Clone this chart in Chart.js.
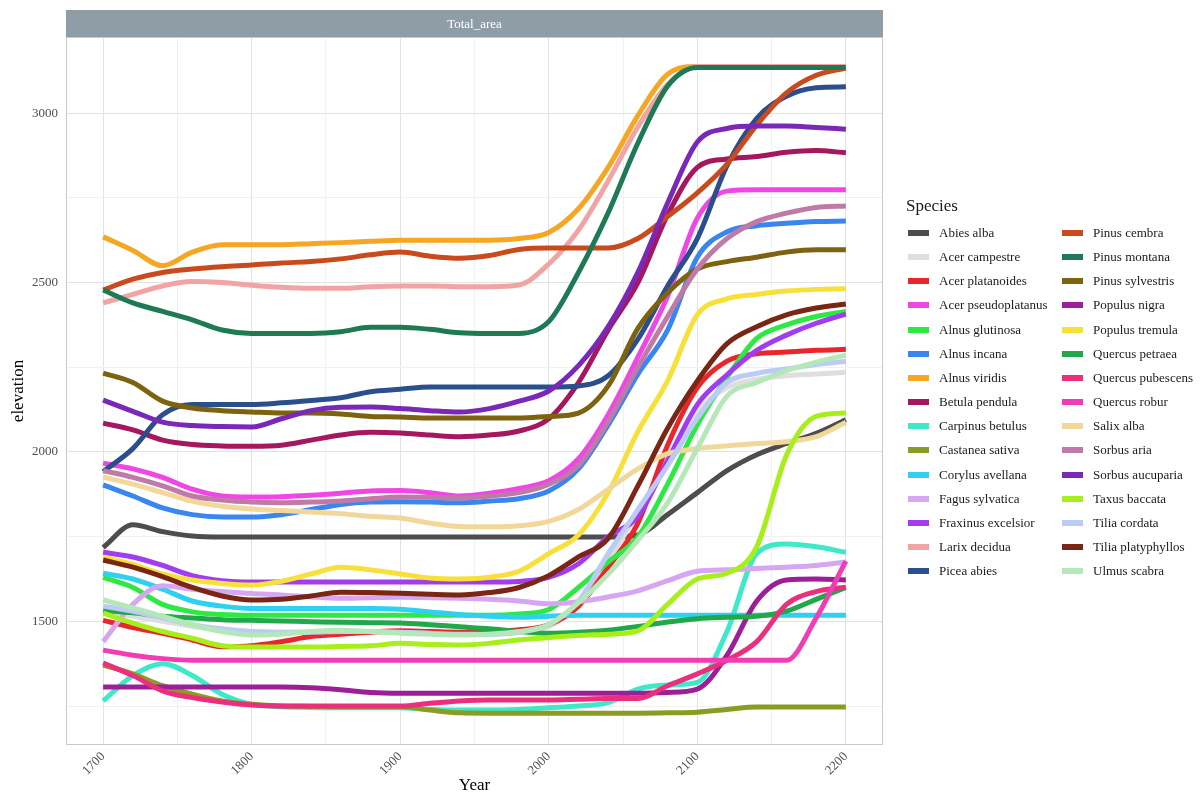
<!DOCTYPE html>
<html lang="en">
<head>
<meta charset="UTF-8" />
<title>Species elevation - Total_area</title>
<script src="https://cdn.jsdelivr.net/npm/chart.js"></script>
<style>
  body { margin: 0; background: #fff; font-family: "Liberation Serif", "DejaVu Serif", serif; }
  #wrap { position: relative; width: 1200px; height: 796px; }
  #legend { position: absolute; left: 0; top: 0; }
  .lg-title { position: absolute; left: 906px; top: 196px; font-size: 17px; color: #1a1a1a; }
  .lg-item { position: absolute; height: 20px; line-height: 20px; font-size: 13px; color: #1a1a1a; white-space: nowrap; }
  .lg-key { position: absolute; left: 0; top: 7px; width: 21px; height: 6px; }
  .lg-text { position: absolute; left: 31px; top: 0; }
</style>
</head>
<body>
<div id="wrap">
  <canvas id="chart" width="1200" height="796"></canvas>
  <div id="legend"></div>
</div>

<script>
  // years every 20 from 1700 to 2200
  const years = [1700,1720,1740,1760,1780,1800,1820,1840,1860,1880,1900,1920,1940,1960,1980,2000,2020,2040,2060,2080,2100,2120,2140,2160,2180,2200];

  const species = ['Abies alba','Acer campestre','Acer platanoides','Acer pseudoplatanus','Alnus glutinosa','Alnus incana','Alnus viridis','Betula pendula','Carpinus betulus','Castanea sativa','Corylus avellana','Fagus sylvatica','Fraxinus excelsior','Larix decidua','Picea abies','Pinus cembra','Pinus montana','Pinus sylvestris','Populus nigra','Populus tremula','Quercus petraea','Quercus pubescens','Quercus robur','Salix alba','Sorbus aria','Sorbus aucuparia','Taxus baccata','Tilia cordata','Tilia platyphyllos','Ulmus scabra'];

  const colors = ['#4d4d4d','#dedede','#e8262b','#f046e6','#2ee843','#3a86f0','#f5a623','#a5175e','#3ee8c8','#8c9c23','#2fd0f0','#d7a6f2','#a23cf0','#f2a3a3','#2b4f8c','#c94a1c','#1d7a55','#7d6210','#9c1f99','#f7e03a','#22a84a','#eb2f7d','#f23cb3','#f2d79b','#c07aa8','#7a28b8','#a6ef1a','#bccbf5','#7a2614','#b5e8b8'];

  const abiesAlba          = [1718,1785,1765,1752,1749,1749,1749,1749,1749,1749,1749,1749,1749,1749,1749,1749,1749,1749,1755,1815,1880,1945,1992,2025,2055,2095];
  const acerCampestre      = [1530,1515,1500,1485,1475,1470,1468,1468,1468,1468,1468,1466,1464,1464,1468,1485,1545,1680,1820,1980,2120,2190,2215,2225,2230,2235];
  const acerPlatanoides    = [1503,1482,1465,1445,1425,1428,1440,1455,1462,1468,1472,1470,1468,1470,1475,1490,1545,1660,1790,2020,2190,2268,2290,2295,2300,2303];
  const acerPseudoplat     = [1967,1950,1925,1890,1870,1867,1868,1872,1878,1885,1886,1880,1870,1878,1892,1915,1980,2110,2280,2460,2690,2770,2774,2774,2774,2774];
  const alnusGlutinosa     = [1630,1600,1550,1528,1520,1518,1518,1518,1518,1518,1518,1518,1518,1518,1522,1535,1600,1675,1750,1905,2080,2220,2335,2375,2400,2415];
  const alnusIncana        = [1903,1870,1835,1815,1808,1808,1815,1830,1845,1852,1853,1852,1850,1855,1862,1885,1950,2080,2230,2360,2575,2650,2668,2675,2680,2682];
  const alnusViridis       = [2635,2595,2550,2590,2612,2612,2612,2615,2618,2622,2625,2625,2625,2625,2630,2648,2718,2840,2993,3115,3138,3138,3138,3138,3138,3138];
  const betulaPendula      = [2085,2065,2035,2022,2018,2017,2020,2035,2050,2058,2056,2050,2045,2050,2062,2098,2205,2360,2500,2700,2840,2865,2872,2885,2890,2883];
  const carpinusBetulus    = [1265,1340,1375,1340,1285,1255,1248,1246,1245,1245,1245,1240,1238,1238,1240,1245,1250,1260,1300,1312,1320,1470,1700,1728,1720,1704];
  const castaneaSativa     = [1371,1345,1310,1285,1265,1255,1250,1249,1248,1248,1248,1238,1230,1229,1229,1229,1229,1229,1229,1230,1232,1240,1247,1247,1247,1247];
  const corylusAvellana    = [1642,1625,1595,1560,1545,1538,1538,1538,1538,1538,1536,1528,1520,1515,1512,1515,1518,1518,1518,1518,1518,1518,1518,1518,1518,1518];
  const fagusSylvatica     = [1440,1550,1605,1595,1588,1582,1578,1572,1568,1570,1571,1570,1568,1565,1560,1552,1558,1572,1590,1620,1648,1652,1656,1660,1665,1675];
  const fraxinusExcelsior  = [1704,1690,1665,1635,1620,1616,1616,1616,1616,1616,1616,1616,1616,1616,1618,1630,1670,1750,1810,1975,2140,2228,2300,2345,2380,2407];
  const larixDecidua       = [2440,2465,2490,2503,2500,2492,2486,2483,2483,2488,2490,2490,2488,2488,2493,2555,2655,2800,2960,3085,3138,3138,3138,3138,3138,3138];
  const piceaAbies         = [1942,2010,2110,2140,2140,2140,2145,2152,2160,2178,2185,2192,2192,2192,2192,2192,2195,2225,2333,2490,2630,2845,2985,3050,3075,3078];
  const pinusCembra        = [2478,2510,2530,2540,2547,2552,2558,2562,2570,2582,2590,2578,2572,2580,2598,2602,2602,2602,2630,2695,2765,2850,2965,3060,3112,3133];
  const pinusMontana       = [2478,2440,2415,2390,2360,2350,2350,2350,2355,2368,2368,2362,2352,2350,2350,2385,2530,2706,2912,3080,3135,3135,3135,3135,3135,3135];
  const pinusSylvestris    = [2233,2205,2150,2130,2122,2118,2115,2115,2112,2105,2103,2100,2100,2100,2100,2105,2115,2195,2365,2470,2540,2562,2575,2590,2597,2597];
  const populusNigra       = [1306,1306,1306,1306,1306,1306,1306,1304,1298,1290,1288,1288,1288,1288,1288,1288,1288,1288,1288,1290,1300,1400,1560,1622,1625,1622];
  const populusTremula     = [1690,1668,1640,1622,1612,1607,1618,1640,1660,1652,1640,1628,1625,1630,1648,1700,1755,1880,2060,2210,2405,2452,2465,2475,2480,2482];
  const quercusPetraea     = [1532,1525,1515,1510,1505,1503,1501,1499,1497,1496,1495,1490,1484,1478,1470,1465,1468,1474,1485,1498,1508,1512,1515,1530,1565,1600];
  const quercusPubescens   = [1377,1340,1295,1275,1262,1253,1250,1250,1250,1250,1250,1258,1265,1268,1268,1268,1270,1272,1272,1310,1345,1385,1440,1550,1588,1601];
  const quercusRobur       = [1415,1400,1390,1385,1385,1385,1385,1385,1385,1385,1385,1385,1385,1385,1385,1385,1385,1385,1385,1385,1385,1385,1385,1385,1510,1678];
  const salixAlba          = [1926,1905,1880,1855,1840,1832,1827,1823,1818,1810,1805,1790,1780,1779,1782,1795,1830,1890,1950,1995,2010,2018,2025,2030,2045,2088];
  const sorbusAria         = [1945,1925,1900,1870,1858,1852,1850,1852,1855,1862,1867,1866,1864,1870,1880,1905,1960,2090,2250,2400,2540,2630,2680,2705,2722,2726];
  const sorbusAucuparia    = [2153,2120,2088,2078,2075,2074,2098,2122,2132,2133,2128,2122,2118,2128,2150,2180,2255,2370,2530,2735,2915,2955,2962,2962,2958,2953];
  const taxusBaccata       = [1524,1495,1470,1450,1428,1424,1424,1424,1426,1428,1435,1432,1430,1435,1445,1452,1458,1462,1472,1550,1625,1642,1720,1990,2105,2115];
  const tiliaCordata       = [1545,1530,1510,1490,1478,1470,1468,1468,1470,1470,1468,1465,1462,1462,1468,1490,1560,1700,1830,1960,2100,2205,2232,2245,2258,2268];
  const tiliaPlatyphyllos  = [1681,1660,1632,1600,1575,1563,1565,1575,1586,1585,1583,1580,1578,1585,1600,1635,1690,1745,1900,2070,2210,2320,2370,2405,2425,2437];
  const ulmusScabra        = [1563,1540,1515,1490,1470,1460,1462,1470,1474,1470,1465,1462,1460,1462,1470,1490,1555,1640,1740,1850,2010,2165,2205,2240,2265,2286];

  const series = [abiesAlba, acerCampestre, acerPlatanoides, acerPseudoplat, alnusGlutinosa, alnusIncana, alnusViridis, betulaPendula, carpinusBetulus, castaneaSativa, corylusAvellana, fagusSylvatica, fraxinusExcelsior, larixDecidua, piceaAbies, pinusCembra, pinusMontana, pinusSylvestris, populusNigra, populusTremula, quercusPetraea, quercusPubescens, quercusRobur, salixAlba, sorbusAria, sorbusAucuparia, taxusBaccata, tiliaCordata, tiliaPlatyphyllos, ulmusScabra];

  const yTicks = [1250,1500,1750,2000,2250,2500,2750,3000];
  const xTicks = [1700,1750,1800,1850,1900,1950,2000,2050,2100,2150,2200];
  const stripLabel = 'Total_area';

  const serif = '"Liberation Serif", "DejaVu Serif", serif';
  const majorGrid = '#e2e2e2';
  const minorGrid = '#f1f1f1';

  const datasets = series.map((vals, i) => ({
    label: species[i],
    data: years.map((yr, j) => ({ x: yr, y: vals[j] })),
    borderColor: colors[i],
    backgroundColor: colors[i],
    borderWidth: 5,
    pointRadius: 0,
    cubicInterpolationMode: 'monotone',
    order: -i
  }));

  // grey facet strip on top of the panel + panel border
  const panelDecor = {
    id: 'panelDecor',
    beforeDraw(chart) {
      const { ctx, chartArea: a } = chart;
      ctx.save();
      ctx.fillStyle = '#8f9ea6';
      ctx.fillRect(a.left, 10, a.right - a.left, a.top - 10);
      ctx.fillStyle = '#ffffff';
      ctx.font = '13px ' + serif;
      ctx.textAlign = 'center';
      ctx.textBaseline = 'middle';
      ctx.fillText(stripLabel, (a.left + a.right) / 2, (10 + a.top) / 2 + 1);
      ctx.restore();
    },
    afterDraw(chart) {
      const { ctx, chartArea: a } = chart;
      ctx.save();
      ctx.strokeStyle = '#c8c8c8';
      ctx.lineWidth = 1;
      ctx.strokeRect(a.left + 0.5, a.top + 0.5, a.right - a.left - 1, a.bottom - a.top - 1);
      ctx.restore();
    }
  };

  new Chart(document.getElementById('chart'), {
    type: 'line',
    data: { datasets },
    options: {
      responsive: false,
      animation: false,
      layout: { padding: { left: 0, top: 37, right: 317, bottom: 0 } },
      plugins: { legend: { display: false }, tooltip: { enabled: false } },
      scales: {
        x: {
          type: 'linear', min: 1675, max: 2225,
          afterBuildTicks: s => { s.ticks = xTicks.map(v => ({ value: v })); },
          afterFit: s => { s.height = 51; },
          grid: { color: c => (c.tick && c.tick.value % 100 === 0 ? majorGrid : minorGrid), drawTicks: false },
          border: { display: false },
          ticks: {
            autoSkip: false, minRotation: 45, maxRotation: 45, padding: 4,
            color: '#4d4d4d', font: { family: serif, size: 13 },
            callback: v => (v % 100 === 0 ? String(v) : '')
          },
          title: { display: true, text: 'Year', color: '#000', font: { family: serif, size: 17 }, padding: 0 }
        },
        y: {
          type: 'linear', min: 1135, max: 3225,
          afterBuildTicks: s => { s.ticks = yTicks.map(v => ({ value: v })); },
          afterFit: s => { s.width = 66; },
          grid: { color: c => (c.tick && c.tick.value % 500 === 0 ? majorGrid : minorGrid), drawTicks: false },
          border: { display: false },
          ticks: {
            autoSkip: false, padding: 8,
            color: '#4d4d4d', font: { family: serif, size: 13 },
            callback: v => (v % 500 === 0 ? String(v) : '')
          },
          title: { display: true, text: 'elevation', color: '#000', font: { family: serif, size: 17 }, padding: { top: 8, bottom: 0 } }
        }
      }
    },
    plugins: [panelDecor]
  });

  // two-column legend like the ggplot guide
  const legend = document.getElementById('legend');
  const title = document.createElement('div');
  title.className = 'lg-title';
  title.textContent = 'Species';
  legend.appendChild(title);
  species.forEach((name, i) => {
    const col = Math.floor(i / 15), row = i % 15;
    const item = document.createElement('div');
    item.className = 'lg-item';
    item.style.left = (col === 0 ? 908 : 1062) + 'px';
    item.style.top = (223 + row * 24.15) + 'px';
    item.innerHTML = '<span class="lg-key" style="background:' + colors[i] + '"></span><span class="lg-text">' + name + '</span>';
    legend.appendChild(item);
  });
</script>
</body>
</html>
